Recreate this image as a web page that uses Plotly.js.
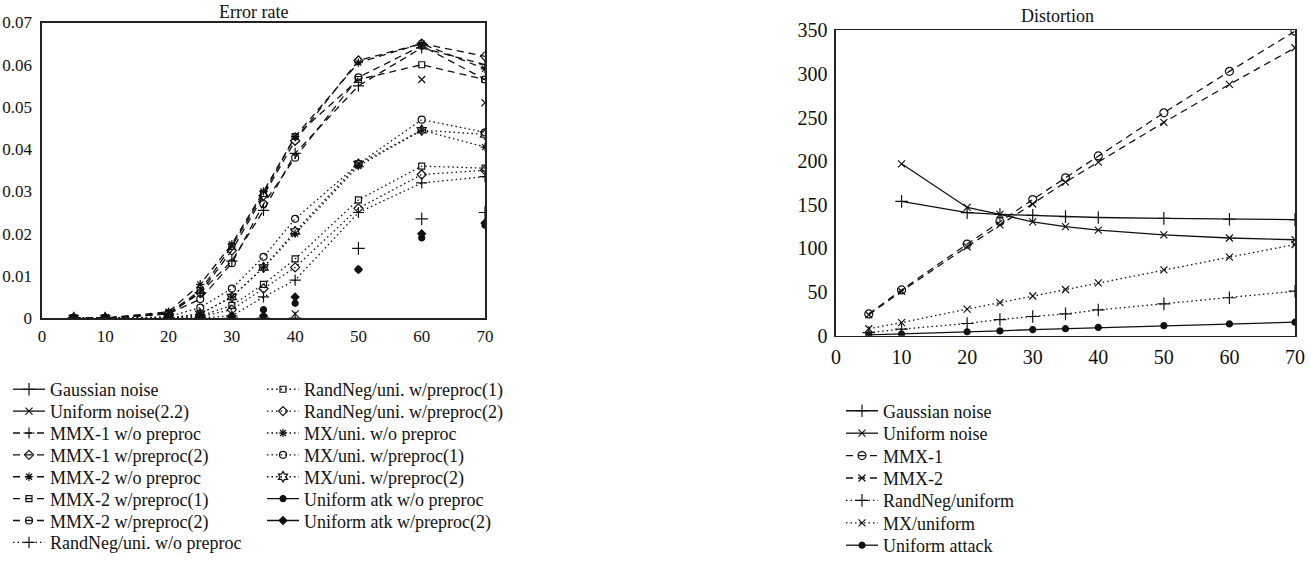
<!DOCTYPE html>
<html><head><meta charset="utf-8">
<script src="https://cdn.plot.ly/plotly-3.0.1.min.js"></script>
<style>html,body{margin:0;padding:0;background:#fff}</style>
</head><body><div id="chart" style="width:1311px;height:564px"></div>
<script>
// ---------- Data: Error rate (left) ----------
const errX = [5, 10, 20, 25, 30, 35, 40, 50, 60, 70];
const errGaussian   = [0, 0, 0, 0, 0, 0, 0, 0.0165, 0.0235, 0.025];
const errUniform    = [0, 0, 0, 0, 0, 0, 0.001, 0.0365, 0.0565, 0.051];
const errMMX1wo     = [0, 0, 0.001, 0.006, 0.0135, 0.0255, 0.039, 0.055, 0.064, 0.06];
const errMMX1p2     = [0, 0, 0.001, 0.006, 0.016, 0.029, 0.042, 0.061, 0.065, 0.062];
const errMMX2wo     = [0, 0, 0.0015, 0.008, 0.0175, 0.03, 0.043, 0.0605, 0.065, 0.059];
const errMMX2p1     = [0, 0, 0.0012, 0.0065, 0.017, 0.0295, 0.043, 0.0565, 0.06, 0.0565];
const errMMX2p2     = [0, 0, 0.001, 0.0045, 0.013, 0.027, 0.038, 0.057, 0.0645, 0.0565];
const errRNwo       = [0, 0, 0, 0, 0.0005, 0.005, 0.009, 0.025, 0.032, 0.0335];
const errRNp1       = [0, 0, 0, 0.0005, 0.003, 0.008, 0.014, 0.028, 0.036, 0.0355];
const errRNp2       = [0, 0, 0, 0.0003, 0.002, 0.007, 0.012, 0.026, 0.034, 0.035];
const errMXwo       = [0, 0, 0, 0.001, 0.005, 0.012, 0.02, 0.036, 0.0445, 0.0405];
const errMXp1       = [0, 0, 0.0003, 0.0025, 0.007, 0.0145, 0.0235, 0.0365, 0.047, 0.044];
const errMXp2       = [0, 0, 0, 0.001, 0.005, 0.012, 0.0205, 0.0365, 0.0445, 0.0435];
const errAtkWo      = [0, 0, 0, 0, 0.0005, 0.002, 0.0035, 0.0115, 0.019, 0.022];
const errAtkP2      = [0, 0, 0, 0, 0, 0.0005, 0.005, 0.0115, 0.02, 0.0225];
const errNames = ['Gaussian noise','Uniform noise(2.2)','MMX-1 w/o preproc','MMX-1 w/preproc(2)',
  'MMX-2 w/o preproc','MMX-2 w/preproc(1)','MMX-2 w/preproc(2)','RandNeg/uni. w/o preproc',
  'RandNeg/uni. w/preproc(1)','RandNeg/uni. w/preproc(2)','MX/uni. w/o preproc','MX/uni. w/preproc(1)',
  'MX/uni. w/preproc(2)','Uniform atk w/o preproc','Uniform atk w/preproc(2)'];
const errTicksY = [0, 0.01, 0.02, 0.03, 0.04, 0.05, 0.06, 0.07];
const ticksX = [0, 10, 20, 30, 40, 50, 60, 70];

// ---------- Data: Distortion (right) ----------
const distX = [5, 10, 20, 25, 30, 35, 40, 50, 60, 70];
const distGaussian = [null, 154, 141, 139, 138, 136.5, 135.5, 134.5, 133.5, 133];
const distUniform  = [null, 197, 147, 139, 130.5, 125, 121, 115.5, 112, 110];
const distMMX1     = [25, 52.5, 105, 131, 156, 181, 206, 255.5, 303, 349];
const distMMX2     = [24, 51, 102, 127, 151, 176, 199, 244.5, 288, 330];
const distRandNeg  = [3.5, 7.5, 14, 18.5, 22, 25, 29.5, 36.5, 43.5, 51];
const distMX       = [8, 15, 30.5, 38, 45.5, 53, 60.5, 75.5, 90, 104.5];
const distAttack   = [1, 2, 4.5, 5.5, 7, 8, 9.5, 11.5, 13.5, 15.5];
const distNames = ['Gaussian noise','Uniform noise','MMX-1','MMX-2','RandNeg/uniform','MX/uniform','Uniform attack'];
const distTicksY = [0, 50, 100, 150, 200, 250, 300, 350];

// ---------- Styling ----------
const FONT = 'Liberation Serif, Times New Roman, serif';
const INK = '#111';
const DASH = '7px,5px';
const DOT = '1.5px,3px';

function gapped(xs, ys) { // markers only in plot, but legend keeps a line
  const gx = [], gy = [];
  xs.forEach((v, i) => { gx.push(v, null); gy.push(ys[i], null); });
  return [gx, gy];
}

const errSeries = [
  [errGaussian, 'solid', 'cross-thin-open', 9, true],
  [errUniform, 'solid', 'x-thin-open', 7, true],
  [errMMX1wo, DASH, 'cross-thin-open', 8, false],
  [errMMX1p2, DASH, 'diamond-open', 7, false],
  [errMMX2wo, DASH, 'asterisk-open', 7, false],
  [errMMX2p1, DASH, 'square-open', 6, false],
  [errMMX2p2, DASH, 'circle-open', 7, false],
  [errRNwo, DOT, 'cross-thin-open', 8, false],
  [errRNp1, DOT, 'square-open', 6, false],
  [errRNp2, DOT, 'diamond-open', 7, false],
  [errMXwo, DOT, 'asterisk-open', 7, false],
  [errMXp1, DOT, 'circle-open', 7, false],
  [errMXp2, DOT, 'hexagram-open', 8, false],
  [errAtkWo, 'solid', 'circle', 6, true],
  [errAtkP2, 'solid', 'diamond', 6, true]
];
const distSeries = [
  [distGaussian, 'solid', 'cross-thin-open', 9],
  [distUniform, 'solid', 'x-thin-open', 7],
  [distMMX1, DASH, 'circle-open', 8],
  [distMMX2, DASH, 'x-thin-open', 7],
  [distRandNeg, DOT, 'cross-thin-open', 9],
  [distMX, DOT, 'x-thin-open', 7],
  [distAttack, 'solid', 'circle', 6]
];

const traces = [];
const layout = {
  width: 1311, height: 564,
  margin: {l: 0, r: 0, t: 0, b: 0},
  paper_bgcolor: '#fff', plot_bgcolor: '#fff',
  font: {family: FONT, color: INK, size: 17},
  showlegend: true,
  annotations: []
};
let legendCount = 0;
function addLegend(px, py) {
  legendCount++;
  const id = legendCount === 1 ? 'legend' : 'legend' + legendCount;
  layout[id] = {
    x: px / 1311, y: 1 - py / 564, xanchor: 'left', yanchor: 'middle',
    bgcolor: 'rgba(0,0,0,0)', borderwidth: 0, itemwidth: 32, tracegroupgap: 0,
    font: {family: FONT, size: 18, color: INK}, itemclick: false
  };
  return id;
}

const LEG_X1 = 8, LEG_X2 = 262, LEG_X3 = 841;
const ROW0 = 398, ROW = 22.35;
errSeries.forEach((s, i) => {
  const [ys, dash, sym, size, noLine] = s;
  let xs = errX, yv = ys;
  if (noLine) { [xs, yv] = gapped(errX, ys); }
  const col = i < 8 ? 0 : 1;
  const row = i < 8 ? i : i - 8;
  traces.push({
    type: 'scatter', mode: 'lines+markers', x: xs, y: yv, connectgaps: false,
    name: errNames[i], xaxis: 'x', yaxis: 'y',
    legend: addLegend(col === 0 ? LEG_X1 : LEG_X2, ROW0 + row * ROW),
    line: {color: INK, width: 1.3, dash: dash},
    marker: {symbol: sym, size: size, color: INK, line: {color: INK, width: 1.2}}
  });
});
distSeries.forEach((s, i) => {
  const [ys, dash, sym, size] = s;
  traces.push({
    type: 'scatter', mode: 'lines+markers', x: distX, y: ys,
    name: distNames[i], xaxis: 'x2', yaxis: 'y2',
    legend: addLegend(LEG_X3, 420 + i * 22.9),
    line: {color: INK, width: 1.3, dash: dash},
    marker: {symbol: sym, size: size, color: INK, line: {color: INK, width: 1.2}}
  });
});

const axisBase = {
  showline: true, mirror: true, linecolor: '#222', linewidth: 1.6,
  showgrid: false, zeroline: false, ticks: '', fixedrange: true
};
layout.xaxis = Object.assign({}, axisBase, {
  domain: [42 / 1311, 485 / 1311], range: [0, 70], tickvals: ticksX, anchor: 'y',
  tickfont: {size: 17}, ticklabelstandoff: 2
});
layout.yaxis = Object.assign({}, axisBase, {
  domain: [1 - 325 / 564, 1 - 23 / 564], range: [0, 0.07], tickvals: errTicksY, anchor: 'x',
  tickfont: {size: 17}, ticklabelstandoff: 5
});
layout.xaxis2 = Object.assign({}, axisBase, {
  domain: [836 / 1311, 1295 / 1311], range: [0, 70], tickvals: ticksX, anchor: 'y2',
  tickfont: {size: 20}, ticklabelstandoff: 3
});
layout.yaxis2 = Object.assign({}, axisBase, {
  domain: [1 - 343 / 564, 1 - 31 / 564], range: [0, 350], tickvals: distTicksY, anchor: 'x2',
  tickfont: {size: 20}, ticklabelstandoff: 3
});

layout.annotations.push(
  {text: 'Error rate', xref: 'paper', yref: 'paper', x: 253 / 1311, y: 1 - 12 / 564,
   xanchor: 'center', yanchor: 'middle', showarrow: false, font: {size: 18, family: FONT, color: INK}},
  {text: 'Distortion', xref: 'paper', yref: 'paper', x: 1057 / 1311, y: 1 - 16 / 564,
   xanchor: 'center', yanchor: 'middle', showarrow: false, font: {size: 18, family: FONT, color: INK}}
);

Plotly.newPlot('chart', traces, layout, {displayModeBar: false, staticPlot: true});
</script>
</body></html>
